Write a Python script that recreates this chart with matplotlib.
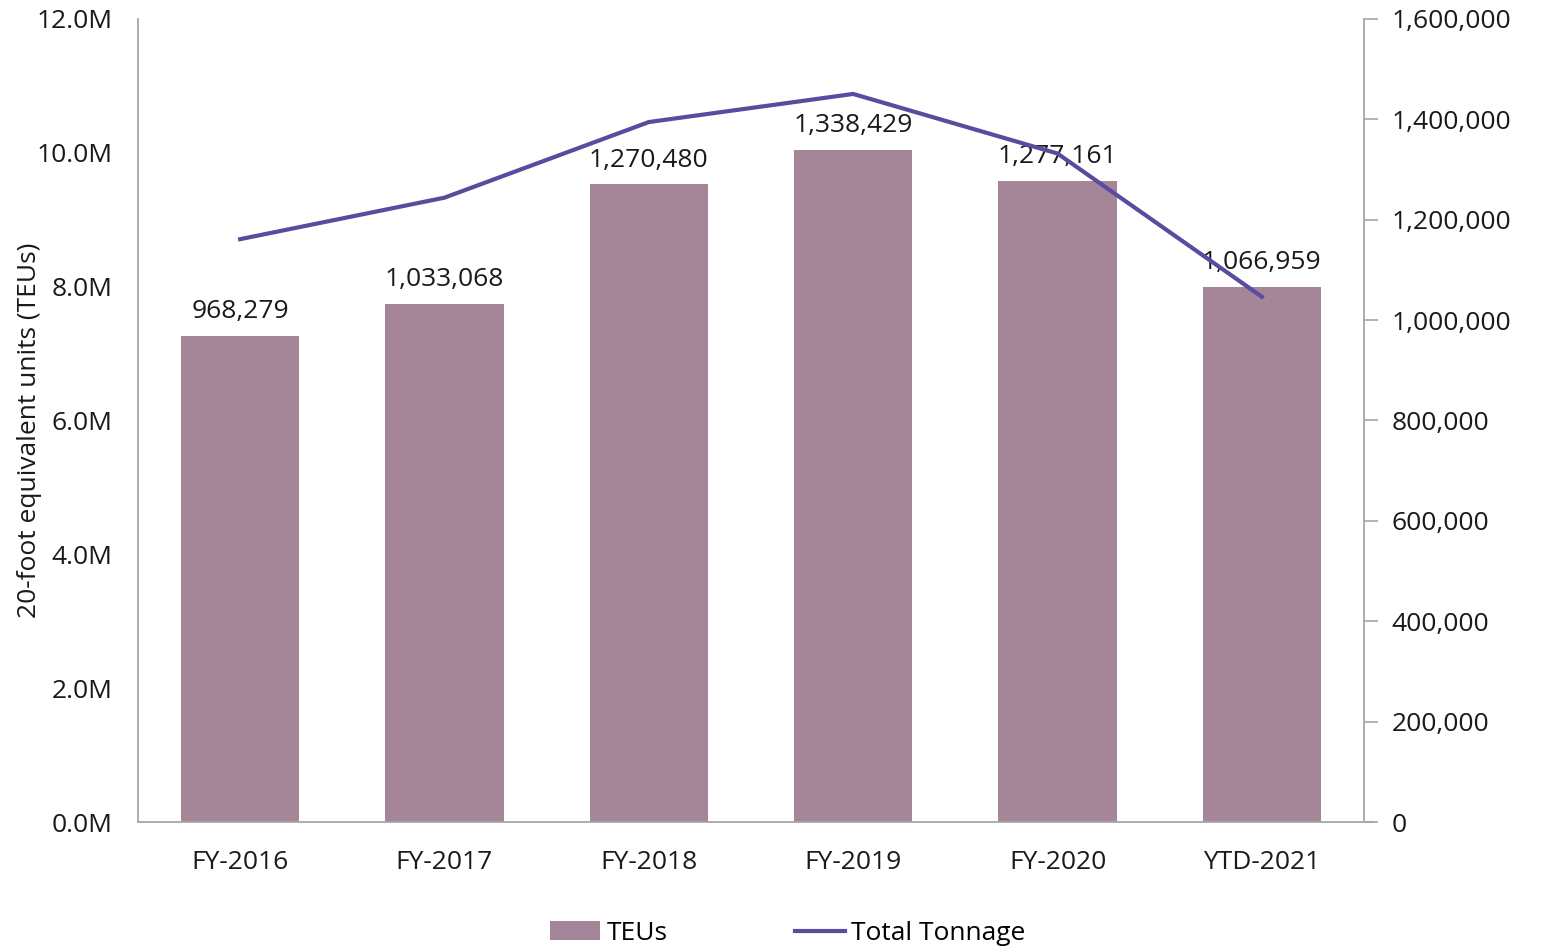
import matplotlib
matplotlib.use("Agg")
import matplotlib.pyplot as plt
from matplotlib.ticker import FuncFormatter, MultipleLocator
from matplotlib.patches import Patch
from matplotlib.lines import Line2D

categories = ["FY-2016", "FY-2017", "FY-2018", "FY-2019", "FY-2020", "YTD-2021"]
teus = [968279, 1033068, 1270480, 1338429, 1277161, 1066959]
total_tonnage = [8.71e6, 9.33e6, 10.46e6, 10.88e6, 9.99e6, 7.85e6]

bar_color = "#A58699"
line_color = "#5A4B9F"
spine_color = "#A6A6A6"

plt.rcParams['font.family'] = ['Open Sans', 'DejaVu Sans']
fs = 19

fig = plt.figure(figsize=(15.42, 9.46), dpi=100)
ax = fig.add_axes([138/1542, 1-822/946, (1364-138)/1542, (822-19)/946])
ax2 = ax.twinx()

x = list(range(len(categories)))
ax2.bar(x, teus, width=0.58, color=bar_color, zorder=2)
for xi, v in zip(x, teus):
    ax2.annotate(f"{v:,}", (xi, v), xytext=(0, 8.5), textcoords="offset points",
                 ha="center", va="bottom", fontsize=fs, color="#1a1a1a")

ax.plot(x, total_tonnage, color=line_color, lw=3, zorder=3)
ax.set_zorder(ax2.get_zorder() + 1)
ax.patch.set_visible(False)

ax.set_xlim(-0.5, len(categories) - 0.5)
ax.set_ylim(0, 12e6)
ax.yaxis.set_major_locator(MultipleLocator(2e6))
ax.yaxis.set_major_formatter(FuncFormatter(lambda v, p: f"{v/1e6:.1f}M"))
ax2.set_ylim(0, 1.6e6)
ax2.yaxis.set_major_locator(MultipleLocator(2e5))
ax2.yaxis.set_major_formatter(FuncFormatter(lambda v, p: f"{int(v):,}"))

ax.set_xticks(x)
ax.set_xticklabels(categories)
ax.tick_params(axis="x", length=0, pad=20.5, labelsize=fs, colors="#1a1a1a")
ax.tick_params(axis="y", length=0, pad=18.5, labelsize=fs, colors="#1a1a1a")
ax2.tick_params(axis="y", length=10, width=1.2, color=spine_color, pad=10,
                labelsize=fs, labelcolor="#1a1a1a", direction="out")
ax2.tick_params(axis="x", length=0)

for a in (ax, ax2):
    a.spines["top"].set_visible(False)
    for s in ("left", "right", "bottom"):
        a.spines[s].set_color(spine_color)
        a.spines[s].set_linewidth(1.3)
ax.spines["right"].set_visible(False)
ax2.spines["left"].set_visible(False)
ax2.spines["bottom"].set_visible(False)
ax.spines["bottom"].set_bounds(-0.5, len(categories) - 0.5 + 9/204.3)

ax.set_ylabel("20-foot equivalent units (TEUs)", fontsize=fs, color="#1a1a1a")
ax.yaxis.set_label_coords(-0.078, 0.488)

handles = [Patch(facecolor=bar_color, edgecolor="none"),
           Line2D([0], [0], color=line_color, lw=3)]
fig.legend(handles, ["TEUs", "Total Tonnage"], loc="lower center",
           bbox_to_anchor=(0.511, -0.025), ncol=2, frameon=False, fontsize=fs,
           handlelength=1.9, handletextpad=0.25, columnspacing=4.8)

fig.savefig("out.png", dpi=100)
